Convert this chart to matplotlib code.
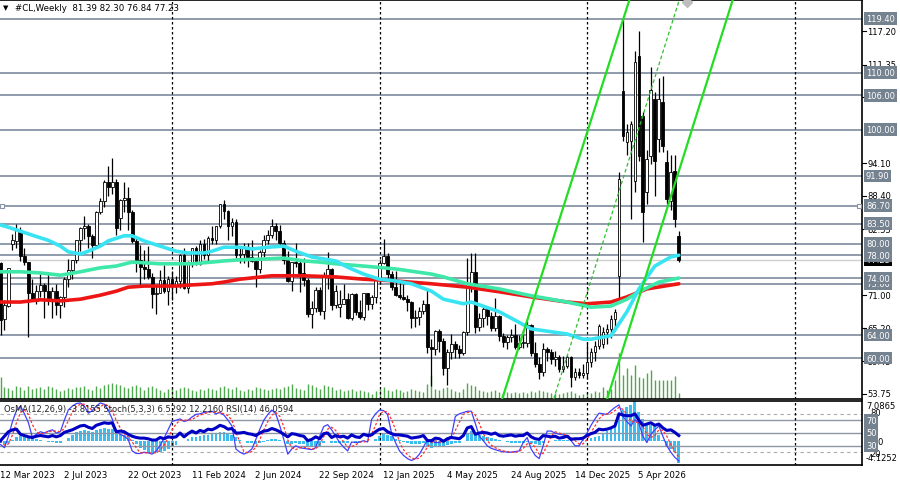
import matplotlib
matplotlib.use("Agg")
import matplotlib.pyplot as plt
from matplotlib.lines import Line2D

plt.rcParams['font.family'] = ['DejaVu Sans']

# ---------------- data (weekly bars, first bar = week of 12 Mar 2023) ----------------
header_symbol = "#CL,Weekly  81.39 82.30 76.84 77.23"
indicator_title = "OsMA(12,26,9) -3.8155 Stoch(5,3,3) 6.5292 12.2160 RSI(14) 46.0594"

opens = [
    76.7, 66.8, 69.1, 79.9, 80.5, 82.5, 77.9, 76.8, 71.3, 70.0,
    71.7, 72.7, 71.7, 70.2, 71.8, 69.2, 70.6, 73.9, 75.4, 77.1,
    80.6, 82.8, 83.2, 81.3, 79.8, 85.6, 87.5, 90.8, 90.0, 90.8,
    84.5, 87.7, 88.1, 85.5, 80.5, 77.2, 75.9, 75.5, 74.1, 71.2,
    71.4, 73.6, 71.7, 73.8, 72.7, 73.4, 78.0, 72.3, 76.8, 79.2,
    76.5, 80.0, 78.0, 81.0, 80.6, 83.2, 86.9, 85.7, 83.1, 83.9,
    78.1, 78.3, 79.2, 77.7, 77.0, 75.5, 78.5, 80.7, 81.5, 83.2,
    82.2, 80.1, 77.2, 73.5, 76.8, 76.7, 74.8, 73.6, 67.7, 68.7,
    71.9, 68.2, 74.4, 75.6, 69.2, 69.0, 69.5, 70.4, 67.0, 71.2,
    68.0, 67.2, 71.3, 69.5, 70.6, 74.0, 76.6, 77.9, 74.7, 72.5,
    71.0, 70.7, 70.4, 69.8, 67.0, 67.2, 68.3, 69.4, 62.0, 61.5,
    64.7, 63.0, 58.3, 61.0, 62.5, 61.5, 60.8, 64.6, 73.0, 75.0,
    65.5, 67.0, 68.5, 67.3, 65.2, 67.3, 63.9, 62.8, 63.7, 64.0,
    62.0, 62.7, 62.7, 65.7, 60.9, 58.9, 57.5, 61.5, 61.0, 59.8,
    60.1, 58.1, 58.6, 60.2, 56.7, 57.5, 57.0, 57.4, 59.3, 61.0,
    62.1, 62.5, 64.5, 65.1, 66.8, 74.4, 106.8, 97.8, 98.0, 91.0,
    112.9, 102.4, 89.1, 95.4, 105.4, 98.4, 104.8, 94.3, 87.5, 92.7,
    81.39]
highs = [
    76.8, 70.2, 75.8, 81.8, 83.5, 83.0, 79.2, 76.9, 73.9, 72.7,
    74.7, 73.1, 75.1, 72.5, 73.0, 70.9, 74.1, 77.3, 77.1, 80.6,
    83.0, 84.9, 83.5, 81.7, 85.8, 88.1, 91.2, 93.7, 95.0, 91.4,
    87.8, 90.8, 89.9, 86.0, 81.2, 79.8, 79.0, 79.7, 74.8, 72.6,
    75.4, 76.2, 74.4, 75.3, 74.4, 78.2, 79.3, 77.0, 79.3, 79.6,
    80.6, 80.8, 81.3, 83.1, 83.2, 87.0, 87.7, 86.0, 84.5, 84.4,
    79.4, 80.1, 80.2, 80.6, 77.2, 79.0, 81.6, 82.4, 84.4, 83.6,
    83.3, 80.6, 78.8, 76.9, 80.2, 77.1, 77.6, 74.0, 69.9, 72.4,
    72.4, 75.0, 78.5, 75.8, 72.8, 71.9, 73.0, 71.3, 71.3, 71.3,
    70.2, 71.4, 71.4, 71.0, 74.0, 77.1, 80.8, 78.4, 75.2, 75.2,
    73.6, 73.0, 71.0, 70.0, 68.4, 68.9, 70.2, 72.0, 63.3, 64.9,
    65.0, 63.5, 61.6, 64.2, 63.0, 62.2, 64.8, 77.6, 78.4, 78.4,
    67.9, 68.9, 68.5, 68.0, 70.5, 67.6, 64.4, 64.0, 65.0, 66.0,
    64.0, 64.9, 66.4, 66.0, 62.8, 60.1, 62.6, 62.0, 61.5, 61.3,
    60.5, 60.4, 60.6, 60.4, 58.2, 58.2, 59.0, 62.8, 61.8, 63.0,
    66.0, 65.5, 66.0, 67.5, 68.5, 92.6, 119.4, 101.0, 101.5, 113.8,
    117.3, 103.0, 96.5, 111.0, 106.5, 109.0, 109.4, 96.5, 95.5, 95.5,
    82.30]
lows = [
    64.1, 64.9, 68.9, 79.0, 79.3, 77.0, 76.3, 63.6, 69.9, 69.4,
    70.7, 67.0, 69.3, 67.0, 67.6, 67.0, 69.0, 72.4, 73.9, 76.7,
    78.8, 80.8, 79.3, 77.6, 79.4, 85.2, 86.5, 88.3, 88.8, 81.5,
    82.5, 85.6, 82.4, 80.1, 75.1, 72.4, 73.8, 73.8, 68.8, 67.7,
    71.4, 71.3, 69.3, 70.1, 71.4, 72.3, 72.0, 71.4, 76.0, 76.3,
    76.3, 77.4, 76.6, 80.0, 80.0, 82.7, 84.4, 80.7, 81.3, 77.6,
    76.6, 76.6, 76.0, 76.8, 72.5, 74.8, 77.7, 80.0, 81.1, 80.6,
    79.7, 76.4, 73.3, 71.7, 76.0, 71.5, 72.6, 67.2, 65.3, 68.0,
    67.5, 66.9, 72.0, 68.4, 68.8, 67.1, 69.5, 66.9, 66.6, 67.5,
    66.8, 66.7, 68.4, 68.6, 69.7, 72.9, 76.5, 73.9, 71.9, 70.8,
    70.3, 70.2, 68.3, 65.2, 65.5, 65.7, 67.7, 60.9, 55.1, 60.6,
    61.1, 57.0, 55.3, 59.9, 60.0, 60.0, 60.5, 64.0, 71.5, 64.4,
    64.7, 65.4, 65.7, 64.7, 64.8, 63.0, 61.9, 61.5, 62.8, 61.5,
    61.5, 61.8, 62.0, 60.4, 58.5, 56.4, 56.8, 59.5, 59.0, 58.6,
    57.6, 57.5, 58.2, 54.9, 56.2, 56.5, 56.5, 56.3, 58.4, 59.5,
    61.5, 61.8, 62.5, 63.5, 64.8, 69.8, 98.0, 95.5, 84.3, 89.0,
    94.5, 80.3, 87.0, 94.0, 88.4, 96.0, 96.0, 87.0, 86.0, 83.0,
    76.84]
closes = [
    66.7, 69.3, 75.7, 80.7, 82.5, 77.9, 76.8, 71.3, 70.0, 71.7,
    72.7, 71.7, 70.2, 71.8, 69.2, 70.6, 73.9, 75.4, 77.1, 80.6,
    82.8, 83.2, 81.3, 79.8, 85.6, 87.5, 90.8, 90.0, 90.8, 82.8,
    87.7, 88.1, 85.5, 80.5, 77.2, 75.9, 75.5, 74.1, 71.2, 71.4,
    73.6, 71.7, 73.8, 72.7, 73.4, 78.0, 72.3, 76.8, 79.2, 76.5,
    80.0, 78.0, 81.0, 80.6, 83.2, 86.9, 85.7, 83.1, 83.9, 78.1,
    78.3, 79.2, 77.7, 77.0, 75.5, 78.5, 80.7, 81.5, 83.2, 82.2,
    80.1, 77.2, 73.5, 76.8, 76.7, 74.8, 73.6, 67.7, 68.7, 71.9,
    68.2, 74.4, 75.6, 69.2, 71.8, 69.5, 70.4, 67.0, 71.2, 68.0,
    67.2, 71.3, 69.5, 70.6, 74.0, 76.6, 77.9, 74.7, 72.5, 71.0,
    70.7, 70.4, 69.8, 67.0, 67.2, 68.3, 69.4, 62.0, 61.5, 64.7,
    63.0, 58.3, 61.0, 62.5, 61.5, 60.8, 64.6, 73.0, 75.0, 65.5,
    67.0, 68.5, 67.3, 65.2, 67.3, 63.9, 62.8, 63.7, 64.0, 62.0,
    62.7, 62.7, 65.7, 60.9, 58.9, 57.5, 61.5, 61.0, 59.8, 60.1,
    58.1, 58.6, 60.2, 56.7, 57.5, 57.0, 57.4, 59.3, 61.0, 62.1,
    65.6, 64.5, 65.1, 66.8, 68.0, 91.3, 98.9, 99.6, 101.0, 111.8,
    95.4, 85.6, 94.9, 107.0, 94.5, 105.4, 97.1, 87.8, 92.5, 84.3,
    77.23]
volume = [
    22, 12, 11, 9, 13, 12, 9, 13, 10, 11,
    12, 10, 13, 12, 10, 8, 9, 11, 10, 12,
    12, 13, 10, 9, 13, 11, 14, 15, 16, 15,
    14, 12, 11, 13, 14, 12, 9, 12, 13, 11,
    9, 7, 10, 12, 9, 11, 12, 11, 9, 8,
    10, 9, 11, 10, 9, 12, 13, 11, 10, 12,
    9, 8, 10, 9, 12, 11, 10, 9, 10, 11,
    10, 12, 13, 15, 11, 10, 9, 15, 14, 12,
    10, 14, 13, 12, 9, 10, 8, 9, 10, 8,
    9, 8, 7, 5, 8, 10, 12, 9, 8, 10,
    9, 7, 8, 10, 9, 8, 7, 15, 24, 10,
    9, 11, 12, 10, 8, 7, 10, 16, 14, 13,
    9, 8, 7, 8, 9, 7, 6, 7, 6, 7,
    6, 7, 6, 8, 7, 9, 8, 7, 6, 6,
    5, 6, 7, 8, 6, 4, 5, 7, 6, 8,
    7, 12, 9, 10, 19, 46, 24, 31, 24, 34,
    22, 21, 26, 29, 19, 19, 19, 19, 19, 23,
    6]
osma = [
    -0.3, -0.5, -0.2, 0.3, 0.7, 0.9, 0.9, 0.8, 0.7, 0.5,
    0.3, 0.1, -0.1, -0.1, -0.2, -0.2, 0.0, 0.6, 1.2, 1.6,
    1.8, 2.0, 1.9, 1.7, 2.0, 2.2, 2.3, 2.2, 2.1, 1.6,
    1.4, 1.2, 0.8, 0.2, -0.5, -1.1, -1.5, -1.8, -2.0, -2.0,
    -1.8, -1.6, -1.4, -1.0, -0.6, 0.0, 0.1, 0.4, 0.7, 0.8,
    1.0, 1.1, 1.2, 1.3, 1.4, 1.6, 1.6, 1.4, 1.2, 0.7,
    0.3, 0.0, -0.2, -0.3, -0.5, -0.3, -0.1, 0.2, 0.4, 0.4,
    0.3, 0.0, -0.4, -0.4, -0.3, -0.4, -0.5, -0.9, -1.0, -0.8,
    -0.8, -0.3, 0.0, -0.2, -0.2, -0.3, -0.2, -0.3, 0.0, -0.1,
    -0.2, 0.0, 0.0, 0.1, 0.5, 1.0, 1.3, 1.2, 0.9, 0.5,
    0.2, -0.1, -0.3, -0.5, -0.5, -0.4, -0.3, -0.8, -1.2, -0.9,
    -0.8, -0.9, -0.6, -0.4, -0.3, -0.3, 0.1, 1.3, 1.9, 1.4,
    1.2, 1.0, 0.8, 0.6, 0.5, 0.2, 0.0, -0.1, -0.2, -0.3,
    -0.3, -0.3, -0.1, -0.3, -0.5, -0.6, -0.2, 0.0, 0.1, 0.2,
    0.2, 0.2, 0.3, 0.1, 0.1, 0.1, 0.2, 0.4, 0.6, 0.8,
    0.9, 1.5, 1.9, 2.4, 3.2, 5.0, 5.5, 6.0, 6.4, 7.0865,
    5.2, 4.0, 3.2, 2.9, 2.7, 1.2, 0.2, -0.8, -1.4, -1.9,
    -3.8155]
stoch_main = [
    32, 27, 45, 68, 85, 92, 80, 66, 43, 48,
    52, 50, 53, 55, 50, 52, 70, 86, 92, 96,
    97, 92, 81, 85, 92, 97, 95, 86, 72, 53,
    48, 45, 40, 22, 18, 18, 20, 19, 17, 22,
    30, 42, 55, 68, 70, 72, 68, 70, 75, 79,
    80, 82, 83, 84, 80, 82, 78, 70, 61, 25,
    20, 17, 20, 25, 40, 56, 70, 79, 86, 80,
    61, 40, 17, 25, 30, 27, 26, 25, 24, 27,
    45, 60, 63, 55, 45, 35, 28, 22, 36, 35,
    36, 38, 36, 71, 80, 86, 85, 79, 50, 35,
    22, 15, 10, 7, 10, 17, 28, 40, 38, 35,
    35, 38, 42, 45, 76, 80, 82, 84, 84, 65,
    45, 38, 30, 26, 24, 22, 21, 20, 20, 21,
    22, 35, 43, 25, 15, 10, 30, 53, 53, 50,
    48, 47, 45, 38, 30, 30, 40, 50, 62, 72,
    81, 80, 79, 85, 90, 94, 76, 68, 61, 71,
    65, 45, 35, 48, 55, 61, 45, 30, 20, 12,
    6.53]
stoch_signal = [
    38, 31, 33, 47, 66, 82, 86, 79, 63, 52,
    48, 50, 52, 53, 53, 52, 57, 69, 83, 91,
    95, 95, 90, 86, 86, 91, 95, 93, 84, 70,
    58, 49, 44, 36, 27, 19, 19, 19, 19, 19,
    23, 31, 42, 55, 64, 70, 70, 70, 71, 75,
    78, 80, 82, 83, 82, 82, 80, 77, 70, 52,
    35, 21, 19, 21, 28, 40, 55, 68, 78, 82,
    76, 60, 39, 27, 24, 27, 28, 26, 25, 25,
    32, 44, 56, 59, 54, 45, 36, 28, 29, 31,
    36, 36, 37, 48, 62, 79, 84, 83, 71, 55,
    36, 24, 16, 11, 9, 11, 18, 28, 35, 38,
    36, 36, 38, 42, 54, 67, 79, 82, 83, 78,
    65, 49, 38, 31, 27, 24, 22, 21, 20, 20,
    21, 26, 33, 34, 28, 17, 18, 31, 45, 52,
    50, 48, 47, 43, 38, 33, 33, 40, 51, 61,
    72, 78, 80, 81, 85, 90, 87, 79, 68, 67,
    66, 60, 48, 43, 46, 55, 54, 45, 32, 21,
    12.22]
rsi = [
    38, 45, 52, 55, 56, 48, 46, 44, 43, 45,
    46, 45, 44, 46, 44, 46, 51, 53, 55, 58,
    61, 62, 59, 57, 62, 64, 66, 65, 66, 52,
    53, 52, 48, 45, 43, 42, 42, 41, 39, 39,
    43, 41, 44, 43, 44, 50, 44, 49, 53, 50,
    54, 52, 56, 55, 58, 62, 60, 56, 57, 50,
    50, 51, 49, 48, 46, 50, 53, 54, 57, 55,
    52, 48, 44, 49, 48, 46, 45, 38, 40, 44,
    41, 49, 50, 43, 46, 44, 45, 42, 47, 44,
    43, 48, 46, 47, 52, 56, 57, 52, 49, 47,
    47, 46, 45, 42, 43, 44, 46, 38, 38, 42,
    41, 37, 41, 43, 42, 41, 46, 58, 60, 48,
    50, 51, 50, 48, 50, 46, 45, 46, 47, 45,
    46, 46, 50, 44, 41, 40, 46, 45, 44, 45,
    42, 43, 45, 40, 41, 41, 42, 46, 49, 51,
    56, 55, 56, 58, 61, 80, 78, 77, 77, 80,
    70, 62, 64, 66, 62, 64, 58, 54, 55, 51,
    46.06]

# moving averages (bar index, price)
ma_fast_bar = [0, 2, 5, 8, 12, 15, 17, 20, 22, 25, 27, 31, 33, 36, 40, 44, 47, 51, 53, 56,
               60, 63, 67, 71, 74, 78, 84, 87, 91, 95, 99, 103, 108, 111, 116, 118, 125,
               133, 142, 146, 148, 153, 157, 160, 164, 168, 170]
ma_fast_val = [83.3, 82.9, 82.2, 81.5, 80.6, 79.6, 78.6, 78.2, 78.7, 79.6, 80.5, 81.4, 81.4,
               80.5, 79.6, 78.7, 78.4, 78.4, 78.7, 79.4, 79.4, 79.1, 79.4, 79.6, 78.7, 77.7,
               77.0, 75.9, 74.7, 73.8, 73.5, 73.0, 71.7, 70.3, 69.5, 69.8, 68.1, 65.1, 64.2,
               63.3, 63.3, 63.9, 68.1, 72.1, 76.1, 77.7, 78.0]
ma_mid_bar = [0, 5, 10, 15, 20, 25, 29, 33, 40, 48, 53, 56, 60, 65, 71, 76, 80, 84, 91, 99,
              108, 111, 117, 125, 133, 142, 148, 153, 157, 160, 165, 170]
ma_mid_val = [75.1, 75.1, 74.9, 74.5, 75.1, 75.8, 76.1, 76.8, 76.5, 76.5, 76.8, 77.0, 77.2,
              77.3, 77.5, 77.0, 76.8, 76.5, 76.1, 75.6, 74.7, 74.2, 73.0, 72.1, 70.9, 69.8,
              68.9, 69.1, 70.3, 71.6, 73.3, 74.0]
ma_slow_bar = [0, 5, 10, 15, 20, 25, 29, 32, 36, 44, 48, 53, 56, 60, 68, 76, 84, 91, 99,
               108, 117, 125, 133, 142, 147, 153, 157, 162, 170]
ma_slow_val = [69.8, 69.8, 70.2, 70.0, 70.3, 71.0, 71.7, 72.4, 72.6, 72.6, 72.8, 73.0, 73.3,
               73.8, 74.4, 74.4, 74.2, 73.8, 73.5, 73.0, 72.4, 71.6, 70.7, 69.8, 69.5, 69.8,
               70.7, 72.1, 73.0]

# trend channel anchors (bar index, price)
channel_a = [(125.9, 53.2), (145.7, 96.6)]
channel_b = [(140.2, 56.3), (169.8, 122.0)]
channel_c = [(152.3, 53.4), (183.6, 122.9)]
channel_b_end = (172.1, 122.3)

levels = [119.40, 110.00, 106.00, 100.00, 91.90, 86.70, 83.50, 80.00, 78.00, 74.00,
          73.00, 64.00, 60.00]
price_ticks = [117.20, 111.35, 105.65, 94.10, 88.40, 82.55, 71.00,
               65.20, 59.45, 53.75]
last_price = 77.23

date_labels = ["12 Mar 2023", "2 Jul 2023", "22 Oct 2023", "11 Feb 2024", "2 Jun 2024",
               "22 Sep 2024", "12 Jan 2025", "4 May 2025", "24 Aug 2025", "14 Dec 2025",
               "5 Apr 2026"]
date_label_bars = [0, 16, 32, 48, 64, 80, 96, 112, 128, 144, 160]
year_start_bars = [43, 95, 147, 199]

osc_levels_solid = [70, 50, 30]
osc_levels_dash = [80, 20]
osma_max, osma_min = 7.0865, -4.1252

# ---------------- layout ----------------
W, H = 900, 485
fig = plt.figure(figsize=(W / 100, H / 100), dpi=100)
fig.patch.set_facecolor('white')

PLOT_RIGHT = 862
MAIN_TOP, MAIN_BOT = 1, 400
IND_TOP, IND_BOT = 402, 466
BAR0_X, BAR_PX = 0.5, 3.99
P_REF, Y_REF, PX_UNIT = 110.0, 73.5, 5.71
FS = 6.0


def fxp(px):
    return px / W


def fyp(py):
    return 1 - py / H


def rect(top, bot):
    return [0, fyp(bot), fxp(PLOT_RIGHT), (bot - top) / H]


def price_at(py):
    return P_REF - (py - Y_REF) / PX_UNIT


def py_of(p):
    return Y_REF + (P_REF - p) * PX_UNIT


def bar_px(i):
    return BAR0_X + BAR_PX * i


n = len(closes)
idx = list(range(n))
xlim = ((0 - BAR0_X) / BAR_PX, (PLOT_RIGHT - BAR0_X) / BAR_PX)

# volume (behind)
ax_vol = fig.add_axes(rect(MAIN_TOP, MAIN_BOT))
ax_vol.set_xlim(xlim)
ax_vol.set_ylim(0, MAIN_BOT - MAIN_TOP)
ax_vol.vlines(idx, 0, volume, color='#4ea84e', lw=1.0)
ax_vol.axis('off')

ax = fig.add_axes(rect(MAIN_TOP, MAIN_BOT), facecolor='none')
ax.set_xlim(xlim)
ax.set_ylim(price_at(MAIN_BOT), price_at(MAIN_TOP))
ax.set_xticks([])
ax.set_yticks([])
for s in ['top', 'right', 'bottom']:
    ax.spines[s].set_color('black')
    ax.spines[s].set_linewidth(1.2)
ax.spines['left'].set_visible(False)

for lv in levels:
    ax.axhline(lv, color='#8794a6', lw=1.3, zorder=1)
ax.axhline(last_price, color='#cfcfcf', lw=1.0, zorder=1)
for b in year_start_bars:
    ax.axvline(b, color='black', lw=0.9, ls=(0, (2, 2)), zorder=1)

# candles
bodies_b, bodies_h, faces = [], [], []
for o, c in zip(opens, closes):
    lo, hi = min(o, c), max(o, c)
    bodies_b.append(lo)
    bodies_h.append(max(hi - lo, 0.18))
    faces.append('white' if c >= o else 'black')
ax.vlines(idx, lows, highs, color='black', lw=0.9, zorder=3)
ax.bar(idx, bodies_h, bottom=bodies_b, width=0.7, color=faces, edgecolor='black',
       linewidth=0.6, zorder=4)

# moving averages
ax.plot(ma_slow_bar, ma_slow_val, color='#ee1515', lw=2.6, zorder=5, solid_capstyle='round')
ax.plot(ma_mid_bar, ma_mid_val, color='#3ee8a8', lw=2.6, zorder=5, solid_capstyle='round')
ax.plot(ma_fast_bar, ma_fast_val, color='#38e4f2', lw=2.6, zorder=5, solid_capstyle='round')

# channel
ax.axline(channel_a[0], channel_a[1], color='#22dd22', lw=1.6, zorder=6)
ax.axline(channel_c[0], channel_c[1], color='#22dd22', lw=1.6, zorder=6)
ax.axline(channel_b[0], channel_b[1], color='#2fbf2f', lw=0.9, ls=(0, (3, 2)), zorder=6)
ax.plot([channel_b_end[0]], [channel_b_end[1]], marker='D', ms=5, color='#bdbdbd',
        zorder=7, clip_on=False)
ax.plot([0.4, 215.2], [86.70, 86.70], ls='none', marker='s', ms=3.5, mfc='white',
        mec='#8794a6', mew=0.8, zorder=7)

# ---------------- indicator window ----------------
ax_os = fig.add_axes(rect(IND_TOP, IND_BOT))
ax_os.set_xlim(xlim)
ax_os.set_ylim(osma_min, osma_max)
ax_os.bar(idx, osma, width=0.72, color='#3cbdf0', linewidth=0)
ax_os.axis('off')

ax_in = fig.add_axes(rect(IND_TOP, IND_BOT), facecolor='none')
ax_in.set_xlim(xlim)
ax_in.set_ylim(0, 100)
ax_in.set_xticks([])
ax_in.set_yticks([])
for s in ['top', 'right', 'bottom']:
    ax_in.spines[s].set_color('black')
    ax_in.spines[s].set_linewidth(1.2)
ax_in.spines['left'].set_visible(False)
for lv in osc_levels_solid:
    ax_in.axhline(lv, color='#8c97a6', lw=1.0, zorder=1)
for lv in osc_levels_dash:
    ax_in.axhline(lv, color='#aaaaaa', lw=0.8, ls=(0, (3, 3)), zorder=1)
for b in year_start_bars:
    ax_in.axvline(b, color='black', lw=0.9, ls=(0, (2, 2)), zorder=1)
ax_in.plot(idx, stoch_main, color='#4040ff', lw=0.9, zorder=3)
ax_in.plot(idx, stoch_signal, color='#ff3030', lw=0.9, ls=(0, (2, 1.5)), zorder=3)
ax_in.plot(idx, rsi, color='#0000c4', lw=2.2, zorder=4)

# ---------------- texts ----------------
fig.text(fxp(3), fyp(8.5), '\u25bc', fontsize=5, va='center', ha='left', color='black')
fig.text(fxp(15), fyp(8.5), header_symbol, fontsize=FS + 0.2, va='center', ha='left', color='black')
fig.text(fxp(4), fyp(410), indicator_title, fontsize=FS, va='center', ha='left', color='#222222')

# price tick labels
for p in price_ticks:
    y = py_of(p)
    fig.add_artist(Line2D([fxp(862), fxp(866)], [fyp(y), fyp(y)], color='black', lw=0.8))
    fig.text(fxp(867), fyp(y), f'{p:.2f}', fontsize=FS, va='center', ha='left',
             color='black', zorder=3)

box_kw = dict(boxstyle='square,pad=0.22', ec='none')
fig.text(fxp(866), fyp(py_of(last_price)), f'{last_price:.2f}', fontsize=FS, va='center',
         ha='left', color='white', zorder=4, bbox=dict(fc='black', **box_kw))
for k, lv in enumerate(sorted(levels)):
    fig.text(fxp(866), fyp(py_of(lv)), f'{lv:.2f}', fontsize=FS, va='center', ha='left',
             color='white', zorder=5 + k * 0.01, bbox=dict(fc='#75828f', **box_kw))


def osc_py(v):
    return IND_BOT - (IND_BOT - IND_TOP) * v / 100.0


def osma_py(v):
    return IND_BOT - (IND_BOT - IND_TOP) * (v - osma_min) / (osma_max - osma_min)


fig.text(fxp(866), fyp(IND_TOP + 5), f'{osma_max:.4f}', fontsize=FS, va='center', ha='left')
fig.text(fxp(870), fyp(osc_py(80) - 1), '80', fontsize=FS, va='center', ha='left')
fig.text(fxp(870), fyp(osc_py(20) + 1), '20', fontsize=FS, va='center', ha='left')
fig.text(fxp(866), fyp(osma_py(0)), '0.00', fontsize=FS, va='center', ha='left', zorder=3)
fig.text(fxp(866), fyp(IND_BOT - 7), f'{osma_min:.4f}', fontsize=FS, va='center', ha='left')
for lv in osc_levels_solid:
    fig.text(fxp(866), fyp(osc_py(lv)), f'{lv}', fontsize=FS, va='center', ha='left',
             color='white', zorder=5, bbox=dict(fc='#75828f', **box_kw))

# dates
for b, lab in zip(date_label_bars, date_labels):
    x = bar_px(b)
    fig.text(fxp(x - 0.5), fyp(476), lab, fontsize=FS + 0.2, va='center', ha='left', color='black')

fig.savefig('out.png', dpi=100, facecolor='white')
